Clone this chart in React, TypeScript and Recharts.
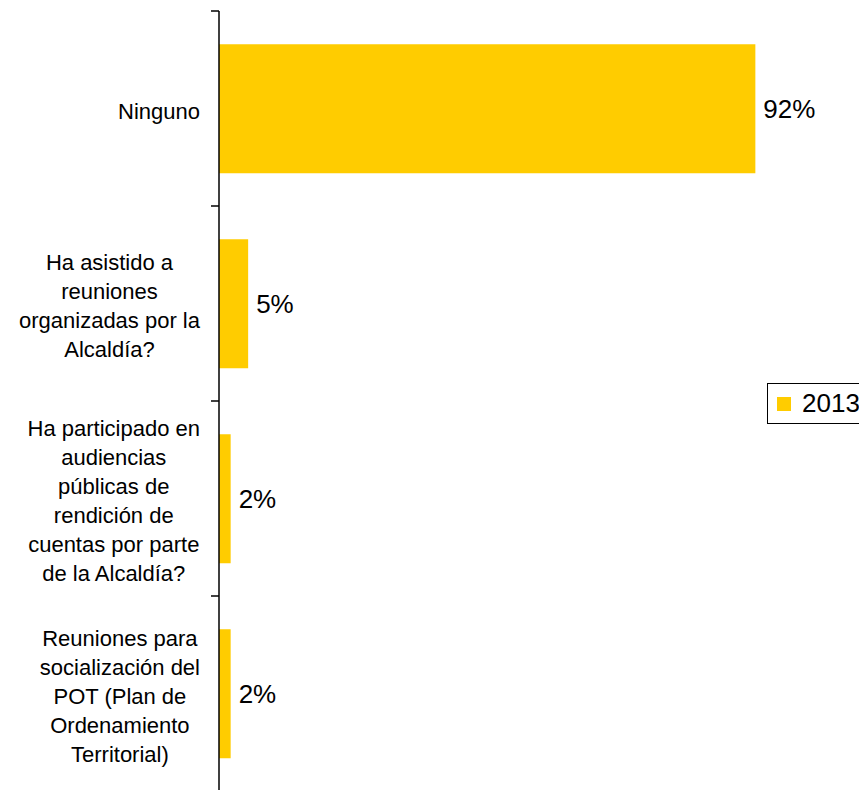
import React from 'react';
import { BarChart, Bar, XAxis, YAxis, LabelList } from 'recharts';

const categories = [
  'Ninguno',
  'Ha asistido a\nreuniones\norganizadas por la\nAlcaldía?',
  'Ha participado en\naudiencias\npúblicas de\nrendición de\ncuentas por parte\nde la Alcaldía?',
  'Reuniones para\nsocialización del\nPOT (Plan de\nOrdenamiento\nTerritorial)',
];
const values2013 = [92, 5, 2, 2];
const seriesName = '2013';

const data = categories.map((name, i) => ({ name, v2013: values2013[i] }));

const FONT = '"Liberation Sans", Arial, sans-serif';
const BAR_COLOR = '#FFCC00';

let measureCtx: CanvasRenderingContext2D | null = null;
function measure(text: string, size: number) {
  if (!measureCtx) {
    const c = document.createElement('canvas');
    measureCtx = c.getContext('2d');
  }
  if (!measureCtx) return text.length * size * 0.5;
  measureCtx.font = `${size}px "Liberation Sans"`;
  return measureCtx.measureText(text).width;
}

const CategoryTick = (props: any) => {
  const { x, y, payload, index } = props;
  const half = payload.offset || 0;
  const lines = String(payload.value).split('\n');
  const fs = 22;
  const lh = 29;
  const maxW = Math.max(...lines.map((l) => measure(l, fs)));
  const right = x - 19;
  const cx = right - maxW / 2;
  const n = lines.length;
  const isLast = index === categories.length - 1;
  return (
    <g>
      <line x1={x - 8} x2={x} y1={y - half} y2={y - half} stroke="#000" strokeWidth={1.5} />
      {isLast && (
        <line x1={x - 8} x2={x} y1={y + half} y2={y + half} stroke="#000" strokeWidth={1.5} />
      )}
      <text textAnchor="middle" fontSize={fs} fontFamily={FONT} fill="#000">
        {lines.map((l, i) => (
          <tspan key={i} x={cx} y={y + (i - (n - 1) / 2) * lh + 10}>
            {l}
          </tspan>
        ))}
      </text>
    </g>
  );
};

const LegendBox = () => (
  <div
    style={{
      position: 'absolute',
      left: 767,
      top: 383,
      border: '1.5px solid #000',
      boxSizing: 'border-box',
      height: 41,
      width: 110,
      display: 'flex',
      alignItems: 'center',
      background: '#fff',
    }}
  >
    <span
      style={{
        display: 'inline-block',
        width: 14,
        height: 14,
        background: BAR_COLOR,
        marginLeft: 9,
        marginRight: 11,
      }}
    />
    <span style={{ fontFamily: FONT, fontSize: 26, color: '#000' }}>{seriesName}</span>
  </div>
);

export default function App() {
  return (
    <div style={{ position: 'absolute', left: 0, top: 0, width: 859, height: 790, overflow: 'hidden', background: '#fff' }}>
      <BarChart
        width={859}
        height={791}
        data={data}
        layout="vertical"
        margin={{ top: 11, right: 57, bottom: 0, left: 0 }}
        barCategoryGap="17%"
      >
        <XAxis type="number" domain={[0, 100]} hide />
        <YAxis
          type="category"
          dataKey="name"
          width={219}
          axisLine={{ stroke: '#000', strokeWidth: 1.5 }}
          tickLine={false}
          tickSize={0}
          tickMargin={0}
          interval={0}
          tick={<CategoryTick />}
        />
        <Bar dataKey="v2013" name={seriesName} fill={BAR_COLOR} isAnimationActive={false}>
          <LabelList
            dataKey="v2013"
            position="right"
            offset={8}
            formatter={(v: any) => `${v}%`}
            fill="#000"
            fontSize={26}
            fontFamily={FONT}
          />
        </Bar>
      </BarChart>
      <LegendBox />
    </div>
  );
}
